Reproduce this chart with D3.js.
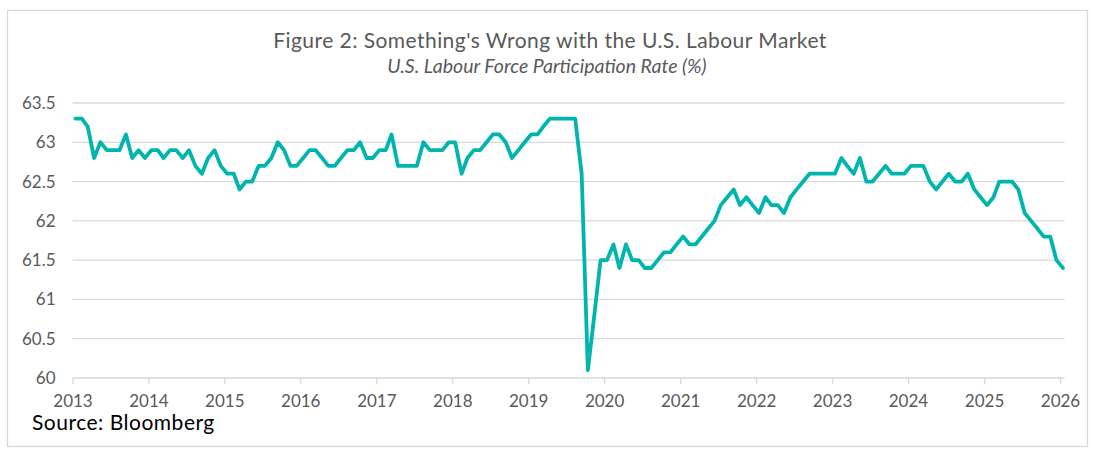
<!DOCTYPE html>
<html>
<head>
<meta charset="utf-8">
<script src="https://cdn.jsdelivr.net/npm/d3@7"></script>
<style>
  body { margin: 0; background: #fff; }
  svg { display: block; font-family: Lato, "Open Sans", sans-serif; }
</style>
</head>
<body>
<div class="chart"></div>
<script>
// Monthly values, Jan 2013 to Jan 2026
var startMonth = new Date(2013, 0, 15);
var values = [
  63.3, 63.3, 63.2, 62.8, 63.0, 62.9, 62.9, 62.9, 63.1, 62.8, 62.9, 62.8, // 2013
  62.9, 62.9, 62.8, 62.9, 62.9, 62.8, 62.9, 62.7, 62.6, 62.8, 62.9, 62.7, // 2014
  62.6, 62.6, 62.4, 62.5, 62.5, 62.7, 62.7, 62.8, 63.0, 62.9, 62.7, 62.7, // 2015
  62.8, 62.9, 62.9, 62.8, 62.7, 62.7, 62.8, 62.9, 62.9, 63.0, 62.8, 62.8, // 2016
  62.9, 62.9, 63.1, 62.7, 62.7, 62.7, 62.7, 63.0, 62.9, 62.9, 62.9, 63.0, // 2017
  63.0, 62.6, 62.8, 62.9, 62.9, 63.0, 63.1, 63.1, 63.0, 62.8, 62.9, 63.0, // 2018
  63.1, 63.1, 63.2, 63.3, 63.3, 63.3, 63.3, 63.3, 62.6, 60.1, 60.8, 61.5, // 2019
  61.5, 61.7, 61.4, 61.7, 61.5, 61.5, 61.4, 61.4, 61.5, 61.6, 61.6, 61.7, // 2020
  61.8, 61.7, 61.7, 61.8, 61.9, 62.0, 62.2, 62.3, 62.4, 62.2, 62.3, 62.2, // 2021
  62.1, 62.3, 62.2, 62.2, 62.1, 62.3, 62.4, 62.5, 62.6, 62.6, 62.6, 62.6, // 2022
  62.6, 62.8, 62.7, 62.6, 62.8, 62.5, 62.5, 62.6, 62.7, 62.6, 62.6, 62.6, // 2023
  62.7, 62.7, 62.7, 62.5, 62.4, 62.5, 62.6, 62.5, 62.5, 62.6, 62.4, 62.3, // 2024
  62.2, 62.3, 62.5, 62.5, 62.5, 62.4, 62.1, 62.0, 61.9, 61.8, 61.8, 61.5, // 2025
  61.4                                                                    // 2026
];
var yTicks = [60, 60.5, 61, 61.5, 62, 62.5, 63, 63.5];
var xTickYears = [2013, 2014, 2015, 2016, 2017, 2018, 2019, 2020, 2021, 2022, 2023, 2024, 2025, 2026];

var titleText = "Figure 2: Something's Wrong with the U.S. Labour Market";
var subtitleText = "U.S. Labour Force Participation Rate (%)";
var sourceText = "Source: Bloomberg";

var svgWidth = 1095;
var svgHeight = 451;

var margin = { top: 103, right: 35, bottom: 73, left: 72.5 };
var width = 1060 - margin.left;
var height = svgHeight - margin.top - margin.bottom;

var svg = d3.select(".chart")
  .append("svg")
  .attr("width", svgWidth)
  .attr("height", svgHeight);

// outer frame
svg.append("rect")
  .attr("x", 7.5)
  .attr("y", 10.5)
  .attr("width", 1080)
  .attr("height", 436)
  .attr("fill", "#fff")
  .attr("stroke", "#d9d9d9")
  .attr("stroke-width", 1.3);

svg.append("text")
  .attr("x", 550)
  .attr("y", 47.5)
  .attr("text-anchor", "middle")
  .attr("font-size", "21px")
  .attr("letter-spacing", "0.45px")
  .attr("fill", "#595959")
  .text(titleText);

svg.append("text")
  .attr("x", 547)
  .attr("y", 73)
  .attr("text-anchor", "middle")
  .attr("font-size", "19.5px")
  .attr("font-style", "italic")
  .attr("fill", "#595959")
  .text(subtitleText);

var chartGroup = svg.append("g")
  .attr("transform", `translate(${margin.left}, ${margin.top})`);

var dates = values.map(function(v, i) { return d3.timeMonth.offset(startMonth, i); });
var data = values.map(function(v, i) { return { date: dates[i], value: v }; });

var xTimeScale = d3.scaleTime()
  .domain([new Date(2013, 0, 1), new Date(2026, 0, 1)])
  .range([0, width]);

var yLinearScale = d3.scaleLinear()
  .domain([60, 63.5])
  .range([height, 0]);

var xEnd = xTimeScale(new Date(2026, 0, 23));

// horizontal gridlines
chartGroup.selectAll(".grid")
  .data(yTicks.filter(d => d > 60))
  .enter()
  .append("line")
  .attr("class", "grid")
  .attr("x1", 0)
  .attr("x2", xEnd)
  .attr("y1", d => yLinearScale(d))
  .attr("y2", d => yLinearScale(d))
  .attr("stroke", "#d9d9d9")
  .attr("stroke-width", 1.3);

// y labels
var leftAxis = d3.axisLeft(yLinearScale)
  .tickValues(yTicks)
  .tickFormat(d3.format("~g"))
  .tickSize(0)
  .tickPadding(17);

var yAxisG = chartGroup.append("g").call(leftAxis);
yAxisG.select(".domain").remove();
yAxisG.selectAll("text")
  .attr("font-family", "Lato, sans-serif")
  .attr("font-size", "17px")
  .attr("fill", "#595959");

// bottom axis
var bottomAxis = d3.axisBottom(xTimeScale)
  .tickValues(xTickYears.map(y => new Date(y, 0, 1)))
  .tickFormat(d3.timeFormat("%Y"))
  .tickSize(6)
  .tickSizeOuter(0)
  .tickPadding(11);

var xAxisG = chartGroup.append("g")
  .attr("transform", `translate(0, ${height})`)
  .call(bottomAxis);
xAxisG.select(".domain")
  .attr("d", `M0,0H${xEnd}`)
  .attr("stroke", "#d9d9d9")
  .attr("stroke-width", 1.3);
xAxisG.selectAll(".tick line")
  .attr("stroke", "#d9d9d9")
  .attr("stroke-width", 1.3);
xAxisG.selectAll("text")
  .attr("font-family", "Lato, sans-serif")
  .attr("font-size", "17px")
  .attr("fill", "#595959");

// the series
var line = d3.line()
  .x(d => xTimeScale(d.date))
  .y(d => yLinearScale(d.value));

chartGroup.append("path")
  .datum(data)
  .attr("d", line)
  .attr("fill", "none")
  .attr("stroke", "#00b5ad")
  .attr("stroke-width", 3.8)
  .attr("stroke-linejoin", "round")
  .attr("stroke-linecap", "round");

svg.append("text")
  .attr("x", 32)
  .attr("y", 429.5)
  .attr("font-family", "Lato, sans-serif")
  .attr("font-size", "21px")
  .attr("letter-spacing", "0.5px")
  .attr("fill", "#000")
  .text(sourceText);
</script>
</body>
</html>
